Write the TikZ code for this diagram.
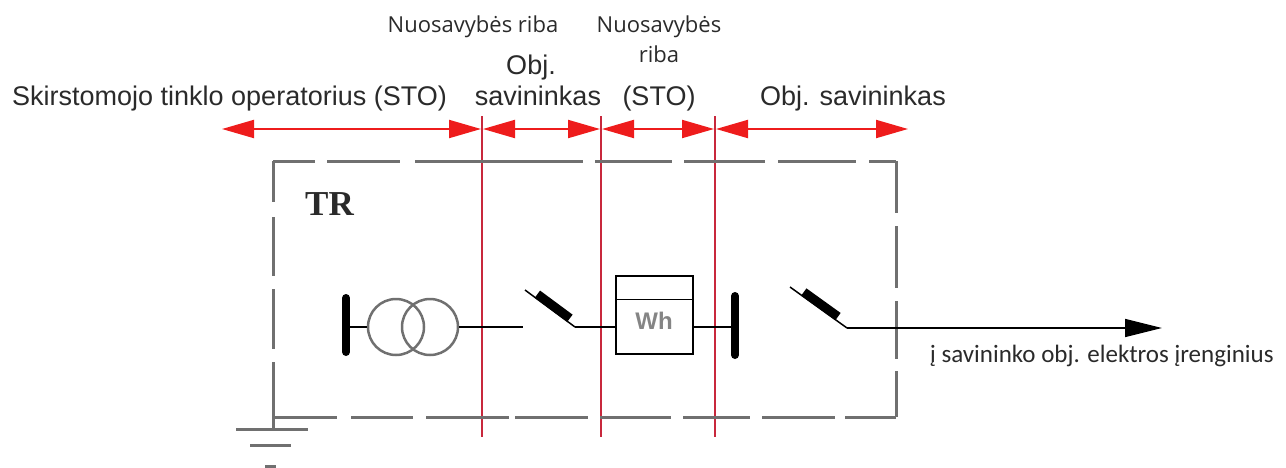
\documentclass[tikz,border=0pt]{standalone}
\usepackage{fontspec}
\setmainfont{Liberation Sans}
\newfontfamily\nuofont{Open Sans}
\newfontfamily\calfont{Carlito}
\newfontfamily\serfont{Liberation Serif}
\usetikzlibrary{arrows.meta,calc}
\definecolor{arrred}{HTML}{EE1C1C}
\definecolor{sepred}{HTML}{C8283C}
\definecolor{boxgray}{HTML}{707070}
\definecolor{txt}{HTML}{2A2A2A}
\definecolor{whgray}{HTML}{858585}
\begin{document}
\begin{tikzpicture}[x=1pt,y=-1pt,
  biglabel/.style={font=\fontsize{27}{31}\selectfont, text=txt, inner sep=0pt},
  smalllabel/.style={font=\nuofont\fontsize{22}{26}\selectfont, text=txt, inner sep=0pt},
  span/.style={draw=arrred, line width=2pt, {Triangle[length=32pt,width=18pt]}-{Triangle[length=32pt,width=18pt]}},
  sepline/.style={draw=sepred, line width=1.5pt},
  frame/.style={draw=boxgray, line width=3pt},
  gnd/.style={draw=boxgray, line width=3pt},
  bus/.style={draw=black, line width=8pt, line cap=round},
  wire/.style={draw=black, line width=1.5pt},
  blade/.style={draw=black, line width=9pt},
  coil/.style={circle, draw=boxgray, line width=2.5pt, minimum size=56pt, inner sep=0pt},
  meterbox/.style={draw=black, line width=1.5pt, minimum width=77pt, minimum height=78pt, inner sep=0pt}
]
\useasboundingbox (0,0) rectangle (1286,467);

% top labels
\node[smalllabel, anchor=base] (nr1) at (473,32) {Nuosavybės riba};
\node[smalllabel, anchor=base] (nr2a) at (659,32) {Nuosavybės};
\node[smalllabel, anchor=base] (nr2b) at (659,62) {riba};
\node[biglabel, anchor=base west] (sto) at (12,105) {Skirstomojo tinklo operatorius (STO)};
\node[biglabel, anchor=base] (obj1a) at (531,74) {Obj.};
\node[biglabel, anchor=base] (obj1b) at (538,105) {savininkas};
\node[biglabel, anchor=base] (sto2) at (659,105) {(STO)};
\node[biglabel, anchor=base west] (obj2) at (760,105) {Obj. savininkas};

% separators
\coordinate (s1t) at (482,116); \coordinate (s1b) at (482,437);
\coordinate (s2t) at (601,116); \coordinate (s2b) at (601,437);
\coordinate (s3t) at (715,116); \coordinate (s3b) at (715,437);
\draw[sepline] (s1t) -- (s1b);
\draw[sepline] (s2t) -- (s2b);
\draw[sepline] (s3t) -- (s3b);

% spans
\coordinate (p0) at (222,129); \coordinate (p1) at (481,129);
\coordinate (p2) at (483,129); \coordinate (p3) at (600,129);
\coordinate (p4) at (602,129); \coordinate (p5) at (714,129);
\coordinate (p6) at (716,129); \coordinate (p7) at (908,129);
\draw[span] (p0) -- (p1);
\draw[span] (p2) -- (p3);
\draw[span] (p4) -- (p5);
\draw[span] (p6) -- (p7);

% frame (irregular dashes as in the drawing)
\coordinate (fNW) at (273,161); \coordinate (fNE) at (896,161);
\coordinate (fSE) at (896,417); \coordinate (fSW) at (273,417);
\draw[frame, dash pattern=on 42pt off 12pt on 73pt off 15pt on 168pt off 12pt on 77pt off 12pt on 81pt off 13pt on 78pt off 13pt on 40pt off 60pt] (fNW) -- (fNE);
\draw[frame, dash pattern=on 52pt off 13pt on 62pt off 13pt on 58pt off 12pt on 60pt off 60pt] (fNE) -- (fSE);
\draw[frame, dash pattern=on 64pt off 14pt on 62pt off 13pt on 83pt off 6pt on 73pt off 12pt on 71pt off 12pt on 67pt off 12pt on 73pt off 10pt on 60pt off 60pt] (fSW) -- (fSE);
\draw[frame, dash pattern=on 41pt off 15pt on 59pt off 13pt on 60pt off 13pt on 60pt off 60pt] (fNW) -- (fSW);
\node[font=\serfont\bfseries\fontsize{35}{40}\selectfont, text=txt, anchor=base west, inner sep=0pt] (trlabel) at (305,215) {TR};

% ground
\coordinate (g0) at (273,405); \coordinate (g1) at (273,429);
\draw[gnd] (g0) -- (g1);
\coordinate (ga1) at (236,429); \coordinate (ga2) at (308,429);
\coordinate (gb1) at (250,445); \coordinate (gb2) at (291,445);
\coordinate (gc1) at (265,466); \coordinate (gc2) at (276,466);
\draw[gnd] (ga1) -- (ga2);
\draw[gnd] (gb1) -- (gb2);
\draw[gnd] (gc1) -- (gc2);

% busbar 1 and transformer
\coordinate (b1t) at (346,298); \coordinate (b1b) at (346,352);
\coordinate (b1m) at (346,327);
\draw[bus] (b1t) -- (b1b);
\node[coil] (tr1) at (396,327) {};
\node[coil] (tr2) at (430,327) {};
\draw[wire] (b1m) -- (tr1.west);

% switch 1
\coordinate (sw1in) at (523,327);
\coordinate (sw1t) at (525,290);
\coordinate (sw1p) at (575,327);
\draw[wire] (tr2.east) -- (sw1in);
\draw[wire] (sw1t) -- (sw1p);
\draw[blade] ($(sw1t)!0.2!(sw1p)+(2.4,-3.2)$) -- ($(sw1t)!0.85!(sw1p)+(2.4,-3.2)$);

% meter
\node[meterbox] (meter) at (654.5,315) {};
\draw[wire] ($(meter.north west)+(0,24)$) -- ($(meter.north east)+(0,24)$);
\node[font=\bfseries\fontsize{24}{28}\selectfont, text=whgray, inner sep=0pt] (wh) at (654,321) {Wh};
\draw[wire] (sw1p) -- (sw1p -| meter.west);

% busbar 2
\coordinate (b2t) at (735,296); \coordinate (b2b) at (735,355);
\coordinate (b2m) at (735,327);
\draw[bus] (b2t) -- (b2b);
\draw[wire] (b2m -| meter.east) -- (b2m);

% switch 2 and outgoing line
\coordinate (sw2t) at (790,287);
\coordinate (sw2p) at (847,328);
\coordinate (out) at (1162,328);
\draw[wire] (sw2t) -- (sw2p);
\draw[blade] ($(sw2t)!0.2!(sw2p)+(2.4,-3.2)$) -- ($(sw2t)!0.8!(sw2p)+(2.4,-3.2)$);
\draw[wire, -{Triangle[length=37pt,width=18pt]}] (sw2p) -- (out);
\node[font=\calfont\fontsize{25}{29}\selectfont, text=txt, anchor=base west, inner sep=0pt] (dest) at (930,362) {į savininko obj. elektros įrenginius};
\end{tikzpicture}
\end{document}
